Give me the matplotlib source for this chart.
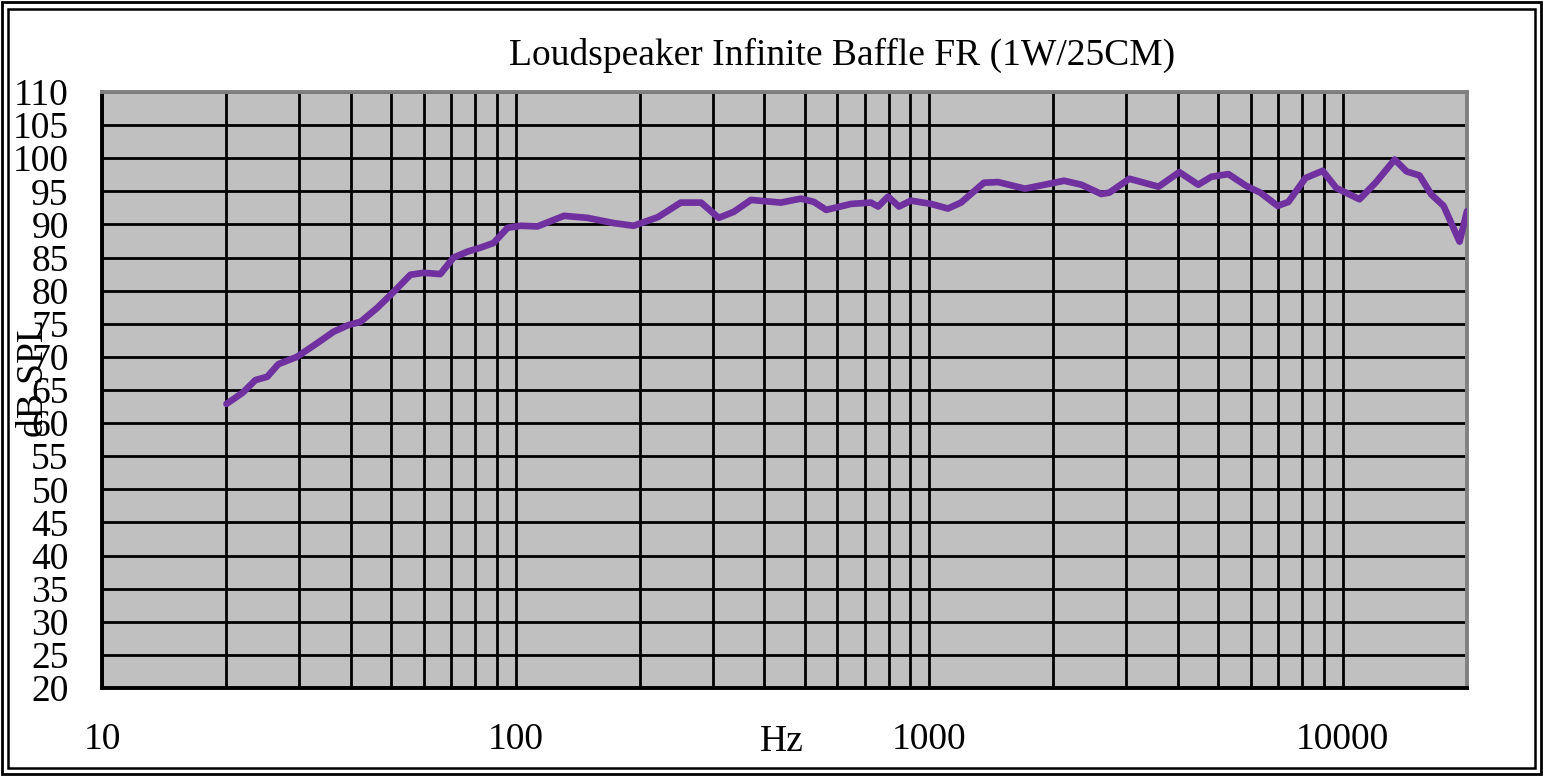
import matplotlib
matplotlib.use('Agg')
import matplotlib.pyplot as plt
from matplotlib.patches import Rectangle
from matplotlib.ticker import FixedLocator, NullFormatter
import numpy as np

plt.rcParams['font.family'] = ['Liberation Serif', 'DejaVu Serif']

# frequency response (Hz, dB SPL)
freq = [20, 21.9, 23.5, 25.1, 26.7, 29.6, 33.2, 36.3, 39.4, 42.2, 46.3, 50.7,
        55.7, 59.9, 65.8, 70.8, 76.6, 82.3, 88.5, 95.7, 103, 113, 131, 149,
        173, 193, 221, 251, 281, 310, 337, 371, 438, 490, 527, 564, 648, 724,
        753, 796, 846, 904, 1011, 1111, 1195, 1358, 1469, 1706, 2122, 2336,
        2609, 2729, 3051, 3589, 4030, 4479, 4817, 5297, 5858, 6328, 6966,
        7397, 8135, 8954, 9661, 10990, 12020, 13370, 14290, 15350, 16410,
        17560, 19190, 20000]
spl = [62.9, 64.6, 66.5, 67.0, 68.9, 70.0, 72.1, 73.8, 74.8, 75.3, 77.4, 79.8,
       82.4, 82.7, 82.5, 85.0, 85.9, 86.5, 87.2, 89.5, 89.8, 89.7, 91.3, 91.0,
       90.2, 89.8, 91.1, 93.3, 93.3, 91.0, 91.9, 93.7, 93.3, 93.9, 93.4, 92.2,
       93.1, 93.3, 92.7, 94.2, 92.7, 93.6, 93.1, 92.4, 93.3, 96.3, 96.4, 95.4,
       96.6, 96.0, 94.6, 94.8, 96.9, 95.7, 97.9, 96.0, 97.2, 97.6, 95.8, 94.8,
       92.8, 93.4, 97.0, 98.1, 95.5, 93.8, 96.3, 99.8, 98.0, 97.4, 94.5,
       92.8, 87.4, 92.0]

ytick_vals = list(range(20, 111, 5))
xtick_vals = [10, 100, 1000, 10000]
xtick_labels = ['10', '100', '1000', '10000']

W, H = 1543, 776
fig = plt.figure(figsize=(W / 100, H / 100), dpi=100)
ax = fig.add_axes([102 / W, 1 - 688 / H, (1467 - 102) / W, (688 - 92) / H])
ax.set_facecolor('#C0C0C0')

ax.plot(freq, spl, color='#7030A0', lw=4.8, solid_capstyle='round',
        solid_joinstyle='round', zorder=3)

ax.set_xscale('log')
ax.set_xlim(10, 20000)
ax.set_ylim(20, 110)
ax.set_xticks(xtick_vals)
ax.set_xticklabels(xtick_labels)
minors = [m * d for d in (10, 100, 1000, 10000) for m in range(2, 10) if m * d < 20000]
ax.xaxis.set_minor_locator(FixedLocator(minors))
ax.xaxis.set_minor_formatter(NullFormatter())
ax.set_yticks(ytick_vals)
ax.tick_params(axis='both', which='both', length=0, labelsize=27)
ax.tick_params(axis='y', pad=24)
ax.tick_params(axis='x', pad=25)

ax.grid(True, which='both', axis='x', color='black', lw=2.0, zorder=1)
ax.grid(True, which='major', axis='y', color='black', lw=2.0, zorder=1)

for s in ('left', 'bottom'):
    ax.spines[s].set_color('black')
    ax.spines[s].set_linewidth(2.8)
for s in ('top', 'right'):
    ax.spines[s].set_color('#808080')
    ax.spines[s].set_linewidth(2.8)

fig.text(842 / W, 1 - 55 / H, 'Loudspeaker Infinite Baffle FR (1W/25CM)',
         ha='center', va='center', fontsize=27)
fig.text(782 / W, 1 - 742 / H, 'Hz', ha='center', va='center', fontsize=27)
fig.text(34 / W, 1 - 378 / H, 'dB SPL', ha='center', va='center',
         rotation=90, fontsize=27)

# double border around the chart
fig.patches.append(Rectangle((2 / W, 2 / H), 1 - 4 / W, 1 - 4 / H,
                             transform=fig.transFigure, fill=False,
                             edgecolor='black', lw=2.0))
fig.patches.append(Rectangle((8 / W, 8 / H), 1 - 16 / W, 1 - 17 / H,
                             transform=fig.transFigure, fill=False,
                             edgecolor='black', lw=1.8))

fig.savefig('out.png', dpi=100)
